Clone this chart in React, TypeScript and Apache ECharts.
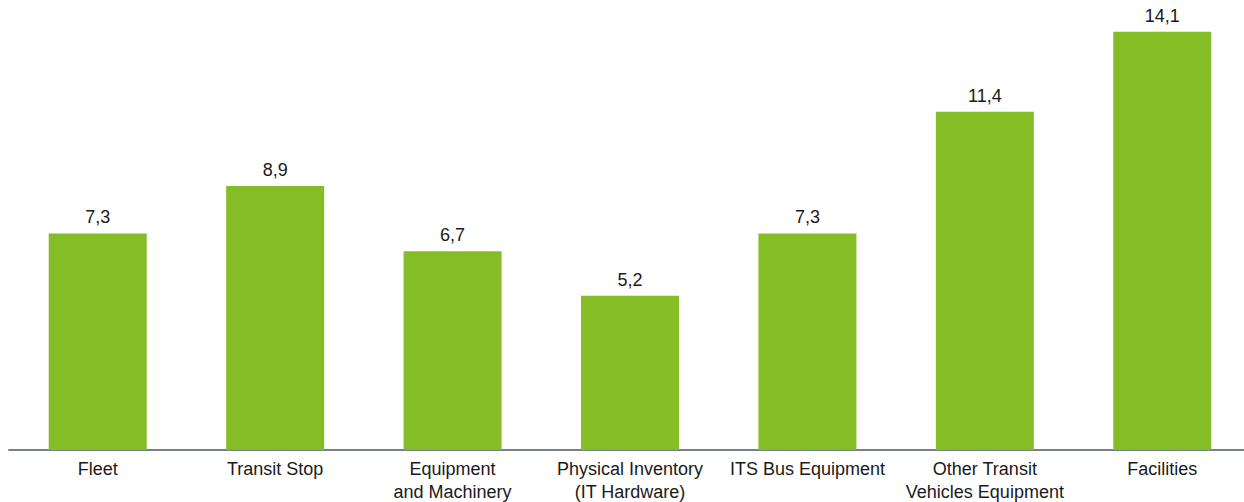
import React, { useEffect, useRef } from "react";
import * as echarts from "echarts";

const categories = [
  "Fleet",
  "Transit Stop",
  "Equipment\nand Machinery",
  "Physical Inventory\n(IT Hardware)",
  "ITS Bus Equipment",
  "Other Transit\nVehicles Equipment",
  "Facilities",
];
const values = [7.3, 8.9, 6.7, 5.2, 7.3, 11.4, 14.1];

export default function App() {
  const ref = useRef<HTMLDivElement>(null);
  useEffect(() => {
    const chart = echarts.init(ref.current!, null, { renderer: "svg" });
    chart.setOption({
      animation: false,
      grid: {
        left: 9,
        width: 1242,
        top: 5,
        bottom: 52,
        containLabel: false,
        outerBoundsMode: "none",
      },
      xAxis: {
        type: "category",
        data: categories,
        axisLine: { show: true, lineStyle: { color: "#74828a", width: 2 } },
        axisTick: { show: false },
        axisLabel: {
          interval: 0,
          color: "#1a1a1a",
          fontSize: 18,
          fontFamily: "Liberation Sans, Arial, sans-serif",
          lineHeight: 23,
          margin: 7,
        },
      },
      yAxis: {
        type: "value",
        min: 0,
        max: 15,
        show: false,
        splitLine: { show: false },
      },
      series: [
        {
          type: "bar",
          data: values,
          barWidth: 98,
          itemStyle: { color: "#84bd26" },
          label: {
            show: true,
            position: "top",
            distance: 7,
            color: "#1a1a1a",
            fontSize: 18,
            fontFamily: "Liberation Sans, Arial, sans-serif",
            formatter: (p: any) => String(p.value).replace(".", ","),
          },
        },
      ],
    });
    return () => chart.dispose();
  }, []);
  return <div ref={ref} style={{ width: 1244, height: 502, position: "absolute", left: 0, top: 0 }} />;
}
